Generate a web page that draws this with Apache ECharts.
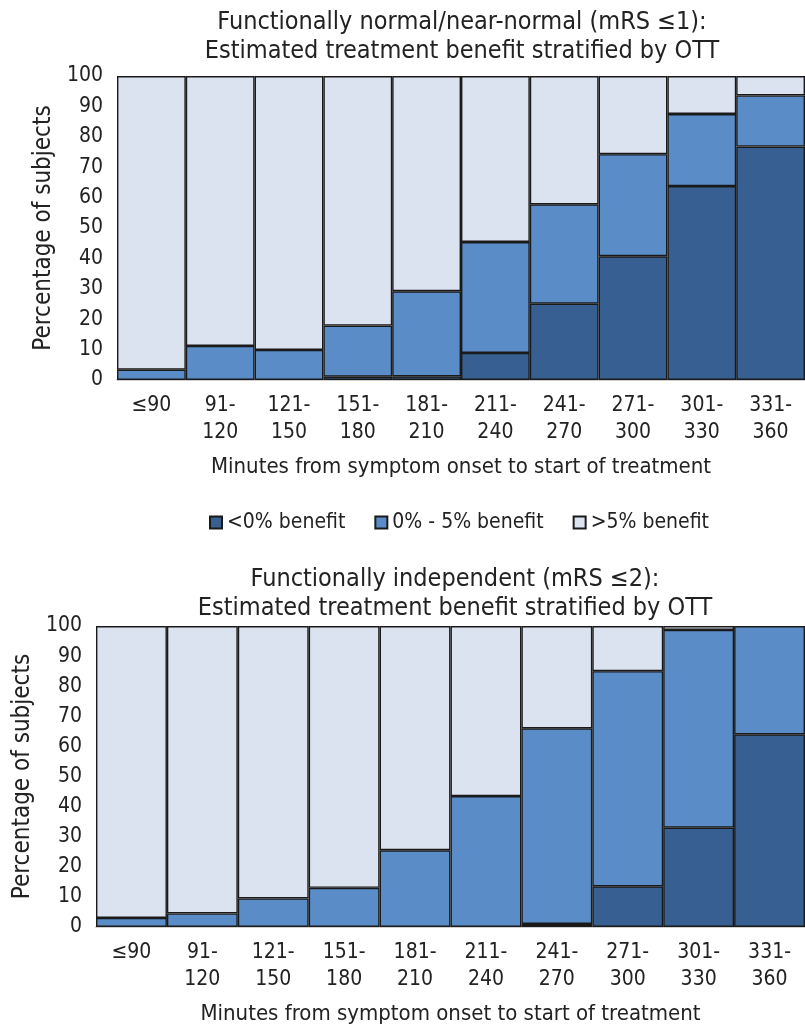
<!DOCTYPE html>
<html>
<head>
<meta charset="utf-8">
<script src="https://cdn.jsdelivr.net/npm/echarts@6/dist/echarts.min.js"></script>
<style>
html,body{margin:0;padding:0;background:#fff;}
#chart{width:805px;height:1026px;}
</style>
</head>
<body>
<div id="chart"></div>
<script>
// Categories (minutes from onset to treatment)
const categories = ['≤90', '91-\n120', '121-\n150', '151-\n180', '181-\n210', '211-\n240', '241-\n270', '271-\n300', '301-\n330', '331-\n360'];
const seriesNames = ['<0% benefit', '0% - 5% benefit', '>5% benefit'];

// Top panel: mRS ≤1 (segment percentages)
const top_neg   = [0, 0, 0, 1.1, 1.2, 8.9, 25.1, 40.7, 63.8, 76.8];
const top_low   = [3.4, 11.2, 9.9, 16.8, 28.0, 36.5, 32.7, 33.6, 23.7, 16.8];
const top_high  = [96.6, 88.8, 90.1, 82.1, 70.8, 54.6, 42.2, 25.7, 12.5, 6.4];

// Bottom panel: mRS ≤2 (segment percentages)
const bot_neg   = [0, 0, 0, 0, 0, 0, 1, 13.5, 33, 64];
const bot_low   = [3, 4.5, 9.5, 13, 25.5, 43.5, 65, 71.5, 65.7, 36];
const bot_high  = [97, 95.5, 90.5, 87, 74.5, 56.5, 34, 15, 1.3, 0];

const yTicks = [0, 10, 20, 30, 40, 50, 60, 70, 80, 90, 100];

const FONT = "'Liberation Sans Narrow', 'Arial Narrow', 'DejaVu Sans Condensed', 'Liberation Sans', sans-serif";
const colors = ['#375F92', '#5A8DC8', '#DCE3F0'];
const TXT = '#222';

const chart = echarts.init(document.getElementById('chart'), null, {renderer: 'canvas'});

function xAxisCfg(gridIndex) {
  return {
    type: 'category', gridIndex, data: categories,
    axisLine: {show: true, lineStyle: {color: '#d0d0d0', width: 2}},
    axisTick: {show: false},
    axisLabel: {interval: 0, color: TXT, fontFamily: FONT, fontSize: 21, lineHeight: 27, margin: 12},
    name: 'Minutes from symptom onset to start of treatment',
    nameLocation: 'middle', nameGap: 76,
    nameTextStyle: {color: TXT, fontFamily: FONT, fontSize: 22}
  };
}
function yAxisCfg(gridIndex) {
  return {
    type: 'value', gridIndex, min: yTicks[0], max: yTicks[yTicks.length - 1], interval: 10,
    axisLine: {show: false}, axisTick: {show: false}, splitLine: {show: false},
    axisLabel: {color: TXT, fontFamily: FONT, fontSize: 21, margin: 14},
    name: 'Percentage of subjects', nameLocation: 'middle', nameGap: 58,
    nameTextStyle: {color: TXT, fontFamily: FONT, fontSize: 24}
  };
}
function barSeries(name, data, idx, stack) {
  return {
    name, type: 'bar', stack,
    data: data.map(v => (v === 0 ? '-' : v)),
    xAxisIndex: idx, yAxisIndex: idx,
    barCategoryGap: '0%',
    itemStyle: {color: colors[seriesNames.indexOf(name)], borderColor: '#1a1a1a', borderWidth: 1.4},
    emphasis: {disabled: true}
  };
}

chart.setOption({
  animation: false,
  backgroundColor: '#fff',
  textStyle: {fontFamily: FONT},
  title: [
    {text: 'Functionally normal/near-normal (mRS ≤1):\nEstimated treatment benefit stratified by OTT',
     left: 457, top: 3, textAlign: 'center',
     textStyle: {color: TXT, fontFamily: FONT, fontSize: 25, fontWeight: 'normal', lineHeight: 29}},
    {text: 'Functionally independent (mRS ≤2):\nEstimated treatment benefit stratified by OTT',
     left: 450, top: 560, textAlign: 'center',
     textStyle: {color: TXT, fontFamily: FONT, fontSize: 25, fontWeight: 'normal', lineHeight: 29}}
  ],
  legend: {
    data: seriesNames, top: 507, left: 204,
    itemWidth: 12, itemHeight: 12, itemGap: 29, icon: 'rect',
    textStyle: {color: TXT, fontFamily: FONT, fontSize: 21}
  },
  grid: [
    {left: 117, right: -1, top: 76, height: 304},
    {left: 96, right: -1, top: 626, height: 302}
  ],
  xAxis: [xAxisCfg(0), xAxisCfg(1)],
  yAxis: [yAxisCfg(0), yAxisCfg(1)],
  series: [
    barSeries(seriesNames[0], top_neg, 0, 'a'),
    barSeries(seriesNames[1], top_low, 0, 'a'),
    barSeries(seriesNames[2], top_high, 0, 'a'),
    barSeries(seriesNames[0], bot_neg, 1, 'b'),
    barSeries(seriesNames[1], bot_low, 1, 'b'),
    barSeries(seriesNames[2], bot_high, 1, 'b')
  ]
});
</script>
</body>
</html>
